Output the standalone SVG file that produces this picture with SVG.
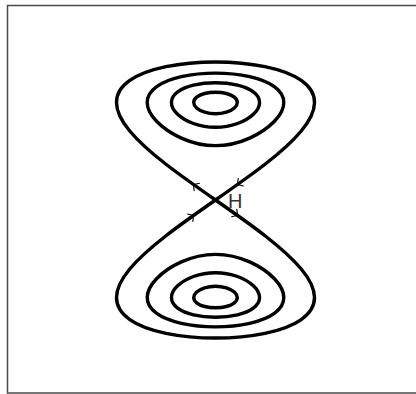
<svg xmlns="http://www.w3.org/2000/svg" xmlns:xlink="http://www.w3.org/1999/xlink" width="416" height="394" viewBox="0 0 416 394">
  <style>
    .orbit { fill: none; stroke: #000; stroke-width: 3.4; stroke-linejoin: round; stroke-linecap: round; }
    .chev { fill: none; stroke: #000; stroke-width: 1.1; stroke-linecap: round; stroke-linejoin: miter; }
    .frame { fill: none; stroke: #4a4a4a; stroke-width: 1.5; }
    .lbl { font-family: "Liberation Sans", Arial, sans-serif; font-size: 20px; fill: #333; }
  </style>
  <defs>
    <path id="chev" d="M-4,-4.5 L0,0 L-4,4.5"/>
    <g id="wells">
      <path class="orbit" d="M215.5,145.66 C227.42,145.66 239.33,142.71 249.66,138.08 C259.99,133.45 268.70,127.30 274.66,121.01 C280.62,114.72 283.81,108.28 283.81,102.40 C283.81,96.52 280.62,91.20 274.66,86.81 C268.70,82.42 259.99,78.97 249.66,76.64 C239.33,74.32 227.42,73.12 215.5,73.12 C203.58,73.12 191.67,74.32 181.34,76.64 C171.01,78.97 162.30,82.42 156.34,86.81 C150.38,91.20 147.19,96.52 147.19,102.40 C147.19,108.28 150.38,114.72 156.34,121.01 C162.30,127.30 171.01,133.45 181.34,138.08 C191.67,142.71 203.58,145.66 215.5,145.66 Z"/>
      <path class="orbit" d="M215.5,127.29 C223.19,127.29 230.87,125.90 237.53,123.48 C244.19,121.06 249.82,117.66 253.66,113.94 C257.51,110.22 259.56,106.19 259.56,102.40 C259.56,98.61 257.51,95.06 253.66,92.09 C249.82,89.12 244.19,86.73 237.53,85.12 C230.87,83.51 223.19,82.68 215.5,82.68 C207.81,82.68 200.13,83.51 193.47,85.12 C186.81,86.73 181.18,89.12 177.34,92.09 C173.49,95.06 171.44,98.61 171.44,102.40 C171.44,106.19 173.49,110.22 177.34,113.94 C181.18,117.66 186.81,121.06 193.47,123.48 C200.13,125.90 207.81,127.29 215.5,127.29 Z"/>
      <path class="orbit" d="M215.5,113.80 C219.30,113.80 223.10,113.23 226.39,112.19 C229.68,111.15 232.46,109.64 234.36,107.92 C236.26,106.20 237.28,104.27 237.28,102.40 C237.28,100.53 236.26,98.71 234.36,97.17 C232.46,95.63 229.68,94.37 226.39,93.51 C223.10,92.65 219.30,92.20 215.5,92.20 C211.70,92.20 207.90,92.65 204.61,93.51 C201.32,94.37 198.54,95.63 196.64,97.17 C194.74,98.71 193.72,100.53 193.72,102.40 C193.72,104.27 194.74,106.20 196.64,107.92 C198.54,109.64 201.32,111.15 204.61,112.19 C207.90,113.23 211.70,113.80 215.5,113.80 Z"/>
    </g>
  </defs>

  <rect class="frame" x="7.5" y="5.5" width="420" height="387.5"/>

  <g id="upper-well">
    <use href="#wells" xlink:href="#wells"/>
  </g>
  <g id="lower-well">
    <use href="#wells" xlink:href="#wells" transform="matrix(1 0 0 -1 0 400)"/>
  </g>

  <g id="separatrix">
    <path class="orbit" d="M215.5,200 C232.78,187.96 250.04,175.91 265.0,164.28 C279.96,152.65 292.60,141.41 301.24,130.98 C309.88,120.55 314.5,110.92 314.5,102.40 C314.5,93.88 309.88,86.48 301.24,80.46 C292.60,74.44 279.96,69.80 265.0,66.68 C250.04,63.56 232.78,61.97 215.5,61.97 C198.22,61.97 180.96,63.56 166.0,66.68 C151.04,69.80 138.40,74.44 129.76,80.46 C121.12,86.48 116.5,93.88 116.5,102.40 C116.5,110.92 121.12,120.55 129.76,130.98 C138.40,141.41 151.04,152.65 166.0,164.28 C180.96,175.91 198.22,187.96 215.5,200 C232.78,212.04 250.04,224.09 265.0,235.72 C279.96,247.35 292.60,258.59 301.24,269.02 C309.88,279.45 314.5,289.08 314.5,297.60 C314.5,306.12 309.88,313.52 301.24,319.54 C292.60,325.56 279.96,330.20 265.0,333.32 C250.04,336.44 232.78,338.03 215.5,338.03 C198.22,338.03 180.96,336.44 166.0,333.32 C151.04,330.20 138.40,325.56 129.76,319.54 C121.12,313.52 116.5,306.12 116.5,297.60 C116.5,289.08 121.12,279.45 129.76,269.02 C138.40,258.59 151.04,247.35 166.0,235.72 C180.96,224.09 198.22,212.04 215.5,200 Z"/>
  </g>

  <g id="arrows">
    <use class="chev" href="#chev" xlink:href="#chev" transform="translate(193.5,184.6) rotate(215.4)"/>
    <use class="chev" href="#chev" xlink:href="#chev" transform="translate(237.5,184.6) rotate(144.6)"/>
    <use class="chev" href="#chev" xlink:href="#chev" transform="translate(193.5,215.4) rotate(-35.4)"/>
    <use class="chev" href="#chev" xlink:href="#chev" transform="translate(237.5,215.4) rotate(35.4)"/>
  </g>

  <g id="saddle-label">
    <text class="lbl" x="228" y="208">H</text>
  </g>
</svg>
